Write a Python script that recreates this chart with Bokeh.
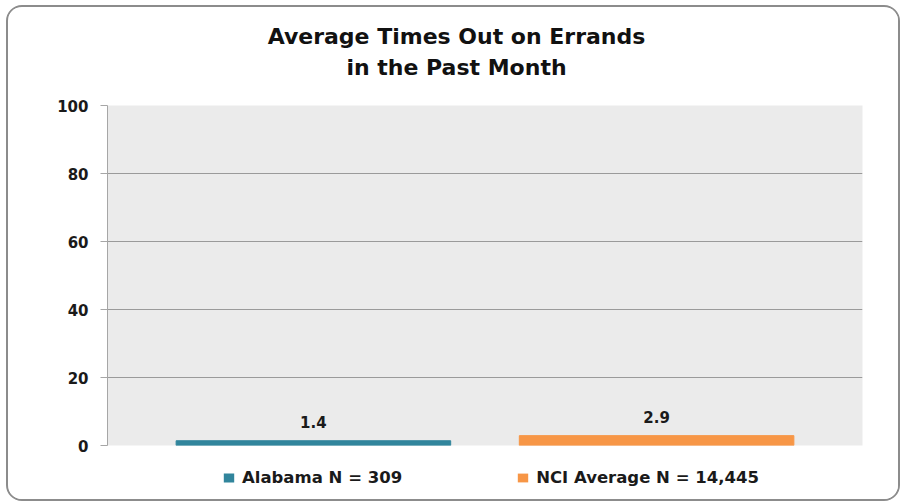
from bokeh.plotting import figure
from bokeh.layouts import column
from bokeh.models import ColumnDataSource, FactorRange, FixedTicker, Legend, LegendItem, LabelSet, Label
from bokeh.core.properties import value
from bokeh.embed import file_html
from bokeh.resources import INLINE

# ---- data ----
groups = ["Alabama N = 309", "NCI Average N = 14,445"]
values = [1.4, 2.9]
value_labels = ["1.4", "2.9"]
colors = ["#31859c", "#f79646"]
y_ticks = [0, 20, 40, 60, 80, 100]
title_lines = ["Average Times Out on Errands", "in the Past Month"]

FONT = "DejaVu Sans"
TXT = "#1a1a1a"
W = 890
H_TITLE, H_MAIN, H_LEG = 88, 362, 42

src = ColumnDataSource(dict(g=groups, v=values, lab=value_labels, c=colors))


def bare(fig):
    fig.axis.visible = False
    fig.grid.visible = False
    fig.outline_line_color = None
    fig.background_fill_color = "white"
    fig.border_fill_color = "white"
    fig.title.visible = False
    return fig


# ---- title strip ----
pt = bare(figure(width=W, height=H_TITLE, output_backend="svg", toolbar_location=None,
                 x_range=(0, 1), y_range=(0, 1),
                 min_border_left=0, min_border_right=0, min_border_top=0, min_border_bottom=0))
for i, t in enumerate(title_lines):
    pt.add_layout(Label(x=349, y=59 - 31 * i, x_units="screen", y_units="screen", text=t,
                        text_align="center", text_baseline="middle", text_font=FONT,
                        text_font_style="bold", text_font_size="22px", text_color="#111111"))

# ---- main plot ----
p = figure(width=W, height=H_MAIN, output_backend="svg", toolbar_location=None,
           x_range=FactorRange(factors=groups, range_padding=0.1),
           y_range=(0, 100),
           min_border_left=99, min_border_right=36, min_border_top=10, min_border_bottom=12)
p.title.visible = False
p.background_fill_color = "#ebebeb"
p.border_fill_color = "white"
p.outline_line_color = None

r = p.vbar(x="g", top="v", width=0.8, color="c", source=src)

p.add_layout(LabelSet(x="g", y="v", text="lab", source=src, text_align="center",
                      text_baseline="bottom", y_offset=13, text_font=value(FONT),
                      text_font_style="bold", text_font_size="15px", text_color=TXT))

p.xaxis.visible = False
p.xgrid.visible = False
p.ygrid.grid_line_color = "#9a9a9a"
p.ygrid.grid_line_width = 1
p.yaxis.ticker = FixedTicker(ticks=y_ticks)
p.yaxis.axis_line_color = "#a6a6a6"
p.yaxis.major_tick_line_color = "#a6a6a6"
p.yaxis.major_tick_in = 0
p.yaxis.major_tick_out = 7
p.yaxis.minor_tick_line_color = None
p.yaxis.major_label_standoff = 12
p.yaxis.major_label_text_font = FONT
p.yaxis.major_label_text_font_style = "bold"
p.yaxis.major_label_text_font_size = "15px"
p.yaxis.major_label_text_color = TXT

# ---- legend strip (proxy bars of zero width, only used for the legend swatches) ----
pl = bare(figure(width=W, height=H_LEG, output_backend="svg", toolbar_location=None,
                 x_range=FactorRange(factors=groups), y_range=(-10, -5),
                 min_border_left=0, min_border_right=0, min_border_top=0, min_border_bottom=0))
rl = pl.vbar(x="g", top="v", width=0, fill_color="c", line_color=None, source=src)
items = [LegendItem(label=groups[i], renderers=[rl], index=i) for i in range(len(groups))]
leg = Legend(items=items, orientation="horizontal", location=(115, 12),
             label_text_font=FONT, label_text_font_style="bold",
             label_text_font_size="16.5px", label_text_color=TXT,
             glyph_width=13, glyph_height=11, label_standoff=7, spacing=114,
             border_line_color=None, background_fill_alpha=0, margin=0, padding=6)
pl.add_layout(leg)

layout = column(pt, p, pl, spacing=0)
layout.styles = {"border": "2px solid #8c8c8c", "border-radius": "16px", "overflow": "hidden",
                 "margin-left": "6px", "margin-top": "5px", "background": "white"}

open("out.html", "w").write(file_html(layout, INLINE))
